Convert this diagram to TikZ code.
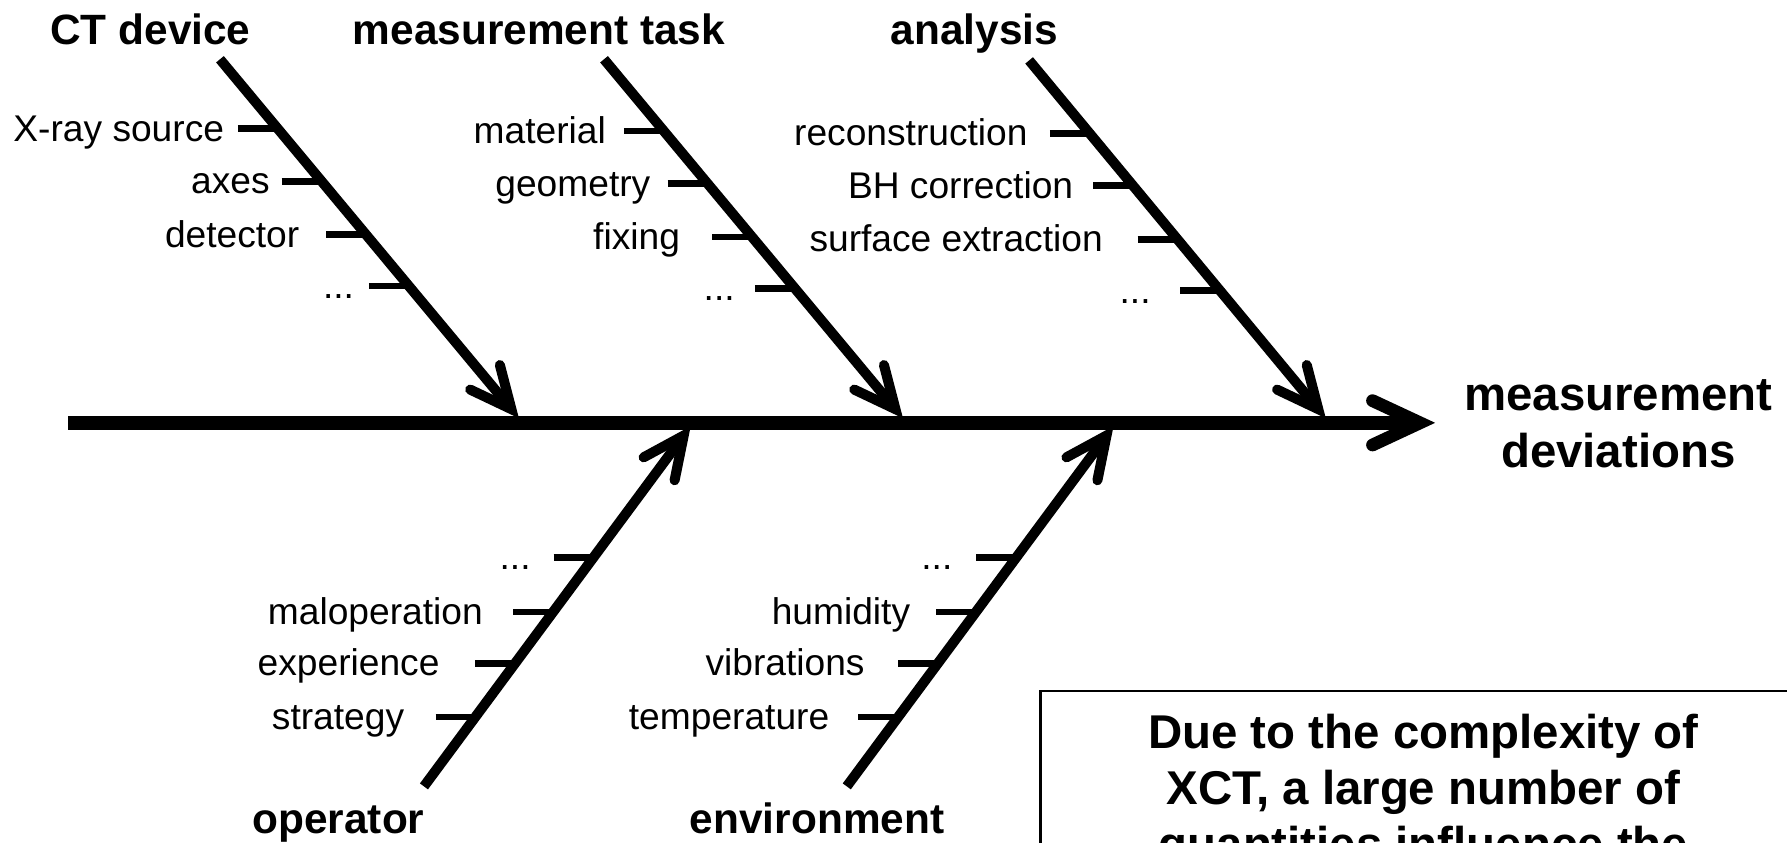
\documentclass[tikz,border=0pt]{standalone}
\usepackage{fontspec}
\setmainfont{Liberation Sans}
\usetikzlibrary{calc}
\newcommand\mythreedots{...}
\begin{document}
\begin{tikzpicture}[x=0.5pt,y=-0.5pt,
  spine/.style={line width=6.2pt},
  bone/.style={line width=4.4pt},
  barb/.style={line width=4.4pt,line cap=round,line join=miter},
  bigbarb/.style={line width=5.6pt,line cap=round,line join=miter},
  rib/.style={line width=2.9pt},
  cause/.style={font=\fontsize{16.3}{19}\selectfont,anchor=base east,inner sep=0pt},
  category/.style={font=\bfseries\fontsize{18.6}{22}\selectfont,anchor=base,inner sep=0pt},
  effect/.style={font=\bfseries\fontsize{20.8}{25}\selectfont,align=center,anchor=base,inner sep=0pt},
  note/.style={font=\bfseries\fontsize{20.8}{24.5}\selectfont,align=center,anchor=base,inner sep=0pt},
  frame/.style={draw,line width=1pt,anchor=north west,minimum width=340pt,minimum height=160pt,inner sep=0pt}
]
\useasboundingbox (0,0) rectangle (1568,739);
\clip (0,0) rectangle (1568,739);

% main spine
\coordinate (sL) at (60,371);
\coordinate (sR) at (1246,371);
\draw[spine] (sL) -- (sR);
\draw[bigbarb] ($(sR)+(155:46)$) -- (sR) -- ($(sR)+(205:46)$);
\node[effect] (eff) at (1420,410) {measurement\\deviations};

% category labels
\node[category] (ctl) at (132,39) {CT device};
\node[category] (mtl) at (473,39) {measurement task};
\node[category] (anl) at (855,39) {analysis};
\node[category] (opl) at (297,731) {operator};
\node[category] (enl) at (717,731) {environment};

% branches
\coordinate (ct0) at (193,52);   \coordinate (ct1) at (448.7,359);
\coordinate (mt0) at (530,52);   \coordinate (mt1) at (785.7,359);
\coordinate (an0) at (903,53);   \coordinate (an1) at (1156.7,359);
\coordinate (op0) at (372,690);  \coordinate (op1) at (599.9,382.2);
\coordinate (en0) at (743,690);  \coordinate (en1) at (970.9,382.2);

\foreach \b in {ct,mt,an}{
  \draw[bone] (\b0) -- (\b1);
  \draw[barb] ($(\b1)+(205.4:40)$) -- (\b1) -- ($(\b1)+(255.4:40)$);
}
\foreach \b in {op,en}{
  \draw[bone] (\b0) -- (\b1);
  \draw[barb] ($(\b1)+(101.5:40)$) -- (\b1) -- ($(\b1)+(151.5:40)$);
}

% ribs and cause labels
\foreach \n/\x/\y/\lx/\t in {
  a1/243.8/113/197/X-ray source, a2/282.1/159/237/axes, a3/321.3/206/263/detector, a4/358.7/251/311/\mythreedots,
  b1/582.5/115/532/material, b2/620.8/161/571/geometry, b3/659.9/208/597/fixing, b4/697.4/253/645/\mythreedots,
  c1/956.1/117/902/reconstruction, c2/994.2/163/942/BH correction, c3/1033.2/210/968/surface extraction, c4/1070.5/255/1010/\mythreedots,
  d1/520.8/489/466/\mythreedots, d2/485.3/537/424/maloperation, d3/452.0/582/386/experience, d4/417.2/629/355/strategy,
  e1/891.8/489/836/\mythreedots, e2/856.3/537/799/humidity, e3/823.0/582/759/vibrations, e4/788.2/629/728/temperature}{
  \coordinate (r\n) at (\x,\y);
  \coordinate (q\n) at ($(r\n)+(-35,0)$);
  \draw[rib] (q\n) -- (r\n);
  \node[cause] (l\n) at (\lx,{\y+11}) {\t};
}

% note box
\node[frame] (box) at (912,605) {};
\node[note] (txt) at (1249,755) {Due to the complexity of\\XCT, a large number of\\quantities influence the};
\end{tikzpicture}
\end{document}
